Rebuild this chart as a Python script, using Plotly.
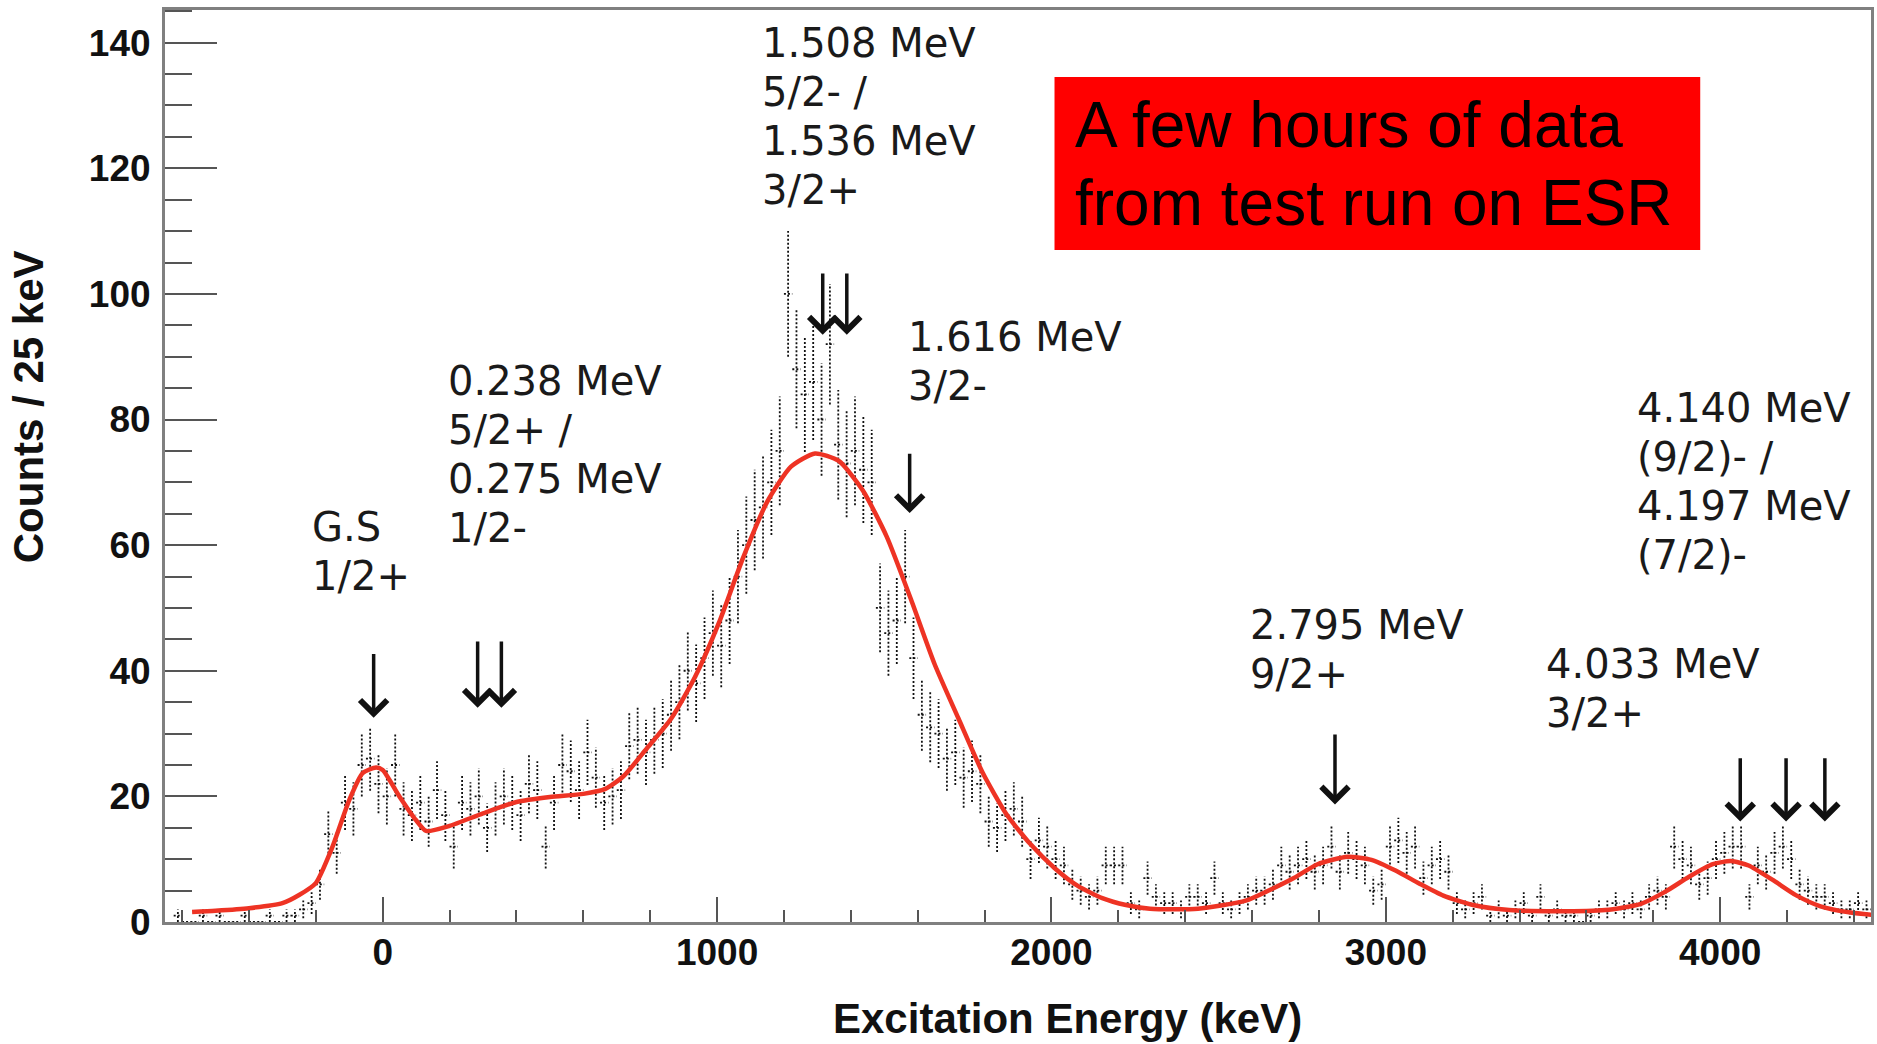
import numpy as np
import plotly.graph_objects as go

# ---------------- data ----------------
BIN_LOW = -625.0      # keV, lower edge of first bin
BIN_WIDTH = 25.0      # keV per bin

counts = [
    1, 0, 0, 1, 0, 1, 0, 0,
    1, 0, 0, 1, 0, 1, 1, 2,
    3, 6, 14, 11, 19, 18, 25, 26,
    22, 20, 25, 18, 17, 19, 16, 21,
    17, 12, 19, 18, 20, 15, 18, 20,
    19, 17, 22, 21, 12, 19, 25, 24,
    21, 27, 23, 19, 20, 21, 28, 29,
    27, 29, 30, 33, 35, 40, 38, 42,
    46, 44, 48, 55, 60, 64, 66, 70,
    75, 100, 88, 84, 86, 80, 92, 76,
    73, 75, 72, 70, 50, 46, 48, 55,
    42, 33, 31, 30, 26, 27, 23, 24,
    22, 16, 15, 17, 18, 16, 10, 13,
    12, 10, 9, 6, 5, 4, 5, 9,
    9, 9, 3, 2, 7, 4, 3, 3,
    2, 4, 4, 3, 7, 3, 2, 3,
    4, 5, 5, 6, 9, 8, 9, 10,
    8, 9, 12, 8, 11, 10, 9, 5,
    6, 12, 13, 11, 12, 7, 9, 10,
    8, 3, 2, 3, 4, 1, 2, 1,
    2, 3, 1, 4, 1, 2, 1, 1,
    0, 1, 2, 2, 3, 2, 3, 2,
    4, 5, 4, 12, 10, 9, 6, 7,
    10, 11, 12, 12, 4, 9, 8, 11,
    12, 10, 6, 5, 4, 4, 3, 2,
    2, 3, 2, 2,
]

fit_x = [-570, -500, -400, -300, -250, -200, -150, -100, -60, -20, 0, 50, 100, 130,
         200, 300, 400, 500, 600, 666, 720, 791, 863, 934, 1006, 1078, 1149, 1221,
         1293, 1364, 1436, 1507, 1579, 1651, 1722, 1794, 1865, 1937, 2009, 2080,
         2152, 2223, 2295, 2438, 2581, 2653, 2725, 2796, 2886, 2957, 3029, 3101,
         3172, 3261, 3369, 3512, 3656, 3763, 3835, 3907, 3978, 4032, 4085, 4157,
         4229, 4300, 4390, 4465]
fit_y = [1.6, 1.8, 2.2, 3.0, 4.3, 6.2, 12.0, 19.4, 23.7, 24.6, 24.2, 20.0, 16.2, 14.5,
         15.3, 17.3, 19.1, 19.9, 20.4, 21.2, 23.2, 27.7, 32.4, 39.0, 47.7, 58.0, 66.8, 72.5,
         74.6, 73.4, 68.7, 61.4, 51.5, 41.0, 32.4, 23.8, 17.2, 12.4, 8.6, 5.7,
         3.8, 2.7, 2.1, 2.1, 3.4, 5.1, 7.0, 9.2, 10.4, 9.9, 8.2, 6.1,
         4.2, 2.7, 1.9, 1.7, 1.9, 2.9, 4.8, 7.2, 9.2, 9.7, 9.0, 6.7,
         4.2, 2.5, 1.5, 1.1]

# level labels: (left x in keV, y of first line in counts, lines)
level_labels = [
    (-218, 62.9, ["G.S", "1/2+"]),
    (188, 86.1, ["0.238 MeV", "5/2+ /", "0.275 MeV", "1/2-"]),
    (1128, 139.9, ["1.508 MeV", "5/2- /", "1.536 MeV", "3/2+"]),
    (1564, 93.1, ["1.616 MeV", "3/2-"]),
    (2588, 47.3, ["2.795 MeV", "9/2+"]),
    (3472, 41.0, ["4.033 MeV", "3/2+"]),
    (3745, 81.8, ["4.140 MeV", "(9/2)- /", "4.197 MeV", "(7/2)-"]),
]
LINE_STEP = 7.8   # counts between label lines

# arrows: x (keV), top of shaft (counts), tip (counts)
arrow_x = [-27, 284, 355, 1316, 1388, 1576, 2848, 4060, 4197, 4313]
arrow_top = [42.9, 44.9, 44.9, 103.5, 103.5, 74.8, 30.1, 26.3, 26.3, 26.3]
arrow_tip = [32.5, 34.1, 34.1, 93.5, 93.5, 65.1, 18.7, 16.0, 16.0, 16.0]

x_tick_vals = [0, 1000, 2000, 3000, 4000]
y_tick_vals = [0, 20, 40, 60, 80, 100, 120, 140]

box_lines = ["A few hours of data", "from test run on ESR"]

# ---------------- build histogram path ----------------
counts_arr = np.array(counts, dtype=float)
centers = BIN_LOW + BIN_WIDTH * (np.arange(len(counts_arr)) + 0.5)
errors = np.sqrt(counts_arr)

seg_x, seg_y = [], []
for c, n, e in zip(centers, counts_arr, errors):
    seg_x += [c - BIN_WIDTH / 2, c + BIN_WIDTH / 2, None]
    seg_y += [n, n, None]
    if e > 0:
        seg_x += [c, c, None]
        seg_y += [n - e, n + e, None]

fig = go.Figure()
fig.add_trace(go.Scatter(
    x=seg_x, y=seg_y, mode="lines",
    line=dict(color="#111111", width=1.8, dash="2px,2px"),
    hoverinfo="skip", showlegend=False,
))
fig.add_trace(go.Scatter(
    x=fit_x, y=fit_y, mode="lines",
    line=dict(color="#ee3324", width=4.5, shape="spline", smoothing=0.6),
    showlegend=False,
))

annotations = []
for x0, y0, lines in level_labels:
    for i, t in enumerate(lines):
        annotations.append(dict(
            x=x0, y=y0 - i * LINE_STEP, xref="x", yref="y", text=t,
            showarrow=False, xanchor="left", yanchor="middle",
            font=dict(family="DejaVu Sans", size=40, color="#1a1a1a"),
        ))

for xa, yt, yp in zip(arrow_x, arrow_top, arrow_tip):
    annotations.append(dict(
        x=xa, y=yp, ax=xa, ay=yt, xref="x", yref="y", axref="x", ayref="y",
        text="", showarrow=True, arrowhead=4, arrowsize=1.5, arrowwidth=3.5,
        arrowcolor="#111111", standoff=0, startstandoff=0,
    ))

# axis titles
annotations.append(dict(
    x=0.529, y=-0.106, xref="paper", yref="paper", text="<b>Excitation Energy (keV)</b>",
    showarrow=False, xanchor="center", yanchor="middle",
    font=dict(family="Liberation Sans", size=42, color="#111111"),
))
annotations.append(dict(
    x=-0.08, y=0.565, xref="paper", yref="paper", text="<b>Counts / 25 keV</b>",
    showarrow=False, xanchor="center", yanchor="middle", textangle=-90,
    font=dict(family="Liberation Sans", size=42, color="#111111"),
))

# red box text
for i, t in enumerate(box_lines):
    annotations.append(dict(
        x=0.5325, y=[0.8739, 0.7889][i], xref="paper", yref="paper", text=t,
        showarrow=False, xanchor="left", yanchor="middle",
        font=dict(family="Liberation Sans", size=64, color="#000000"),
    ))

fig.update_layout(
    width=1877, height=1044,
    margin=dict(l=165, r=3, t=10, b=122),
    paper_bgcolor="white", plot_bgcolor="white",
    annotations=annotations,
    shapes=[dict(type="rect", xref="paper", yref="paper",
                 x0=0.5214, x1=0.8999, y0=0.7368, y1=0.9265,
                 fillcolor="#ff0000", line=dict(width=0), layer="above")],
    font=dict(family="Liberation Sans", color="#111111"),
)

fig.update_xaxes(
    range=[-651, 4451], showgrid=False, zeroline=False,
    showline=True, linecolor="#808080", linewidth=3, mirror=True,
    ticks="inside", ticklen=25, tickwidth=2, tickcolor="#555555",
    tickvals=x_tick_vals, ticktext=[f"<b>{v}</b>" for v in x_tick_vals],
    tickfont=dict(family="Liberation Sans", size=37, color="#111111"),
    ticklabelstandoff=-4,
    minor=dict(ticks="inside", ticklen=12, tickwidth=2, tickcolor="#555555", dtick=200, tick0=0),
)
fig.update_yaxes(
    range=[0, 145.2], showgrid=False, zeroline=False,
    showline=True, linecolor="#808080", linewidth=3, mirror=True,
    ticks="inside", ticklen=52, tickwidth=2, tickcolor="#555555",
    tickvals=y_tick_vals, ticktext=[f"<b>{v}</b>" for v in y_tick_vals],
    tickfont=dict(family="Liberation Sans", size=37, color="#111111"),
    ticklabelstandoff=4,
    minor=dict(ticks="inside", ticklen=27, tickwidth=2, tickcolor="#555555", dtick=5, tick0=0),
)

fig.write_html("out.html")
